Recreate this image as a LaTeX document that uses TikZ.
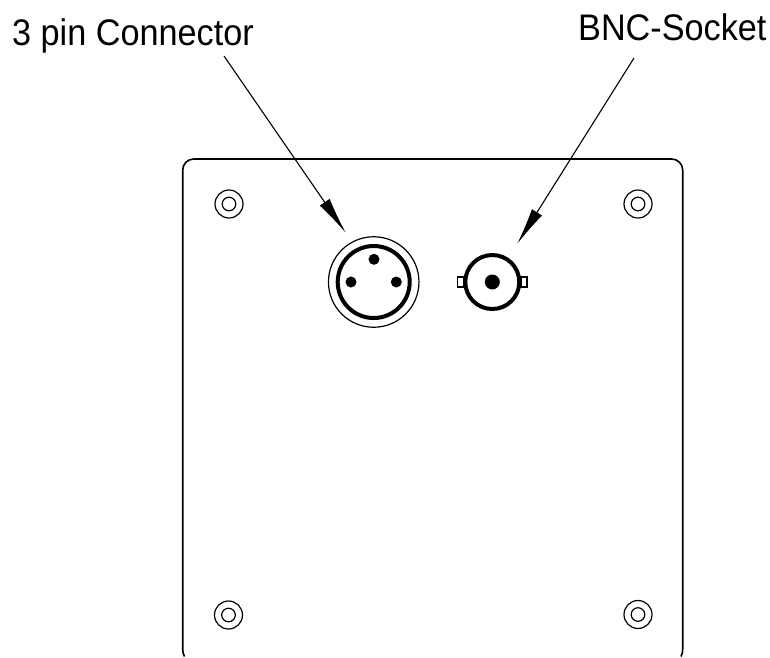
\documentclass[tikz,border=0pt]{standalone}
\usepackage{fontspec}
\setmainfont{Liberation Sans}
\usetikzlibrary{arrows.meta}
\tikzset{
  plate/.style={line width=1.6pt, line join=round},
  thin ring/.style={line width=1.2pt},
  thick ring/.style={line width=4pt},
  pin/.style={circle, fill=black, inner sep=0pt, minimum size=#1},
  screw/.pic={
    \draw[thin ring] (0,0) circle[radius=14];
    \draw[thin ring] (0,0) circle[radius=6.8];
  },
  label/.style={font=\fontsize{37}{37}\selectfont, inner sep=0pt, anchor=base west, xscale=.925, transform shape},
  pointer/.style={line width=1.1pt, -{Latex[length=37pt,width=12pt]}},
}
\begin{document}
\begin{tikzpicture}[x=1pt,y=-1pt]
\useasboundingbox (0,0) rectangle (770,657);
% plate
\draw[plate] (184.5,656.5) .. controls (183.2,654) and (182.7,652) .. (182.7,649)
  [rounded corners=11pt] -- (182.7,159) -- (682.7,159) [sharp corners] -- (682.7,649)
  .. controls (682.7,652) and (682.2,654) .. (681,656.5);
% screws
\pic at (229,204) {screw};
\pic at (638,204) {screw};
\pic at (228.5,615) {screw};
\pic at (638,614.5) {screw};
% 3 pin connector
\node[circle, draw, thin ring, minimum size=90.5pt, inner sep=0pt] (conn) at (373.7,282) {};
\node[circle, draw, thick ring, minimum size=72pt, inner sep=0pt] (connin) at (373.7,282) {};
\node[pin=11pt] (p1) at (374,259.3) {};
\node[pin=11pt] (p2) at (351,282) {};
\node[pin=11pt] (p3) at (396.3,282) {};
% BNC socket
\draw[thin ring] (457.7,277) rectangle (463.5,287);
\draw[thin ring] (521,277) rectangle (527,287);
\node[circle, draw, thick ring, fill=white, minimum size=54pt, inner sep=0pt] (bnc) at (492.3,282) {};
\node[pin=15pt] (bncpin) at (492.3,282) {};
% labels
\node[label] (lblA) at (12,45) {3 pin Connector};
\node[label] (lblB) at (578,40) {BNC-Socket};
\coordinate (startA) at (224,56);
\coordinate (startB) at (634,58);
\coordinate (tipA) at (345.7,232.7);
\coordinate (tipB) at (517.3,243.7);
\draw[pointer] (startA) -- (tipA);
\draw[pointer] (startB) -- (tipB);
\end{tikzpicture}
\end{document}
